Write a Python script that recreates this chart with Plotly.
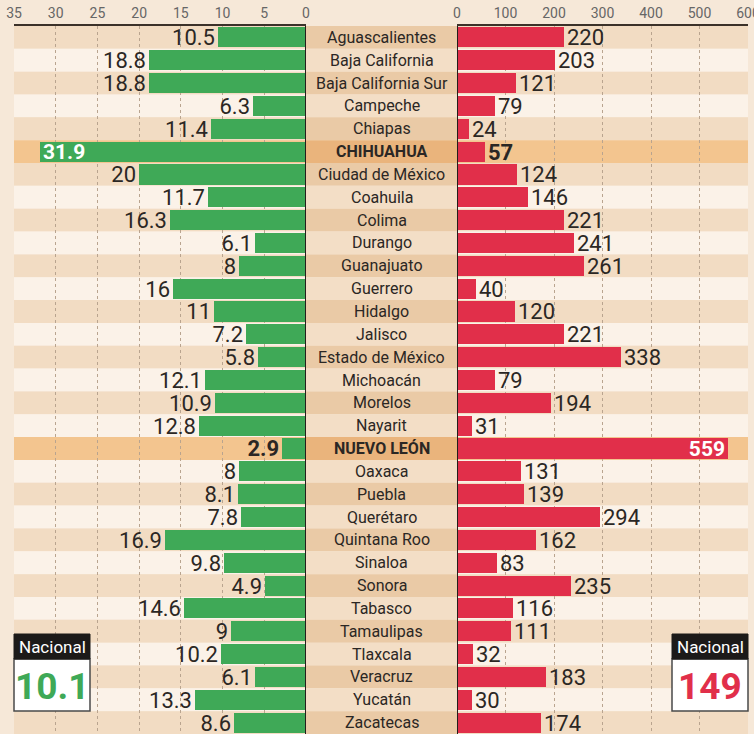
import plotly.graph_objects as go

states = ["Aguascalientes", "Baja California", "Baja California Sur", "Campeche", "Chiapas",
          "CHIHUAHUA", "Ciudad de México", "Coahuila", "Colima", "Durango", "Guanajuato",
          "Guerrero", "Hidalgo", "Jalisco", "Estado de México", "Michoacán", "Morelos",
          "Nayarit", "NUEVO LEÓN", "Oaxaca", "Puebla", "Querétaro", "Quintana Roo",
          "Sinaloa", "Sonora", "Tabasco", "Tamaulipas", "Tlaxcala", "Veracruz", "Yucatán",
          "Zacatecas"]
left_vals = [10.5, 18.8, 18.8, 6.3, 11.4, 31.9, 20, 11.7, 16.3, 6.1, 8, 16, 11, 7.2, 5.8,
             12.1, 10.9, 12.8, 2.9, 8, 8.1, 7.8, 16.9, 9.8, 4.9, 14.6, 9, 10.2, 6.1, 13.3, 8.6]
right_vals = [220, 203, 121, 79, 24, 57, 124, 146, 221, 241, 261, 40, 120, 221, 338, 79,
              194, 31, 559, 131, 139, 294, 162, 83, 235, 116, 111, 32, 183, 30, 174]
highlight = ["CHIHUAHUA", "NUEVO LEÓN"]
left_ticks = [0, 5, 10, 15, 20, 25, 30, 35]
right_ticks = [0, 100, 200, 300, 400, 500, 600]
nacional_left = "10.1"
nacional_right = "149"

W, H = 754, 734
FONT = "Roboto, sans-serif"
NARROW = "Liberation Sans Narrow, Roboto, sans-serif"
GREEN = "#3fa957"
RED = "#e12f4a"
TXT = "#2b2724"
BG = "#f6e8d8"

def px(x):
    return x / W

def py(y):
    return 1 - y / H

n = len(states)
idx = list(range(n))

def fmt(v):
    return ("%g" % v)

left_text = [("<b>%s</b>" % fmt(v)) if s in highlight else fmt(v) for s, v in zip(states, left_vals)]
right_text = [("<b>%s</b>" % fmt(v)) if s in highlight else fmt(v) for s, v in zip(states, right_vals)]
left_pos = ["inside" if (s in highlight and v > 20) else "outside" for s, v in zip(states, left_vals)]
right_pos = ["inside" if (s in highlight and v > 400) else "outside" for s, v in zip(states, right_vals)]

fig = go.Figure()
fig.add_trace(go.Bar(
    x=left_vals, y=idx, orientation="h", xaxis="x", yaxis="y",
    marker=dict(color=GREEN, line=dict(width=0)), width=0.88,
    text=left_text, textposition=left_pos, insidetextanchor="end",
    insidetextfont=dict(color="white", size=21, family=FONT),
    outsidetextfont=dict(color=TXT, size=22, family=FONT),
    constraintext="none", cliponaxis=False, textangle=0, hoverinfo="skip"))
fig.add_trace(go.Bar(
    x=right_vals, y=idx, orientation="h", xaxis="x2", yaxis="y",
    marker=dict(color=RED, line=dict(width=0)), width=0.88,
    text=right_text, textposition=right_pos, insidetextanchor="end",
    insidetextfont=dict(color="white", size=21, family=FONT),
    outsidetextfont=dict(color=TXT, size=22, family=FONT),
    constraintext="none", cliponaxis=False, textangle=0, hoverinfo="skip"))

shapes = []
for i, s in enumerate(states):
    if s in highlight:
        c_plot, c_mid = "#f3c58f", "#eab47c"
    elif i % 2 == 0:
        c_plot, c_mid = "#f2dcc3", "#eacaa6"
    else:
        c_plot, c_mid = "#fbf2e8", "#f3dec6"
    for xr in ("x domain", "x2 domain"):
        shapes.append(dict(type="rect", xref=xr, yref="y", x0=0, x1=1, y0=i - 0.5, y1=i + 0.5,
                           fillcolor=c_plot, line=dict(width=0), layer="below"))
    shapes.append(dict(type="rect", xref="paper", yref="y", x0=px(306), x1=px(457),
                       y0=i - 0.5, y1=i + 0.5, fillcolor=c_mid, line=dict(width=0), layer="below"))

# vertical baseline lines
shapes.append(dict(type="line", xref="x", yref="y domain", x0=0, x1=0, y0=0, y1=1,
                   line=dict(color="#231f1c", width=2), layer="above"))
shapes.append(dict(type="line", xref="x2", yref="y domain", x0=0, x1=0, y0=0, y1=1,
                   line=dict(color="#231f1c", width=2), layer="above"))

anns = []

# Nacional boxes
def nac_box(x0, x1, val, color):
    shapes.append(dict(type="rect", xref="paper", yref="paper", x0=px(x0), x1=px(x1),
                       y0=py(711), y1=py(659), fillcolor="white",
                       line=dict(color="#4a4a4a", width=1.5), layer="above"))
    shapes.append(dict(type="rect", xref="paper", yref="paper", x0=px(x0), x1=px(x1),
                       y0=py(659), y1=py(634), fillcolor="#1c1a19",
                       line=dict(color="#1c1a19", width=1), layer="above"))
    anns.append(dict(xref="paper", yref="paper", x=px((x0 + x1) / 2), y=py(647),
                     text="Nacional", showarrow=False, xanchor="center", yanchor="middle",
                     font=dict(color="white", size=17, family=FONT)))
    anns.append(dict(xref="paper", yref="paper", x=px((x0 + x1) / 2), y=py(686),
                     text="<b>%s</b>" % val, showarrow=False, xanchor="center", yanchor="middle",
                     font=dict(color=color, size=37, family=NARROW)))

for i, s in enumerate(states):
    anns.append(dict(xref="paper", yref="y", x=px(381.5), y=i,
                     text=("<b>%s</b>" % s) if s in highlight else s,
                     showarrow=False, xanchor="center", yanchor="middle",
                     font=dict(color=TXT, size=16, family=FONT)))
nac_box(14, 90, nacional_left, GREEN)
nac_box(672, 748, nacional_right, RED)

axis_common = dict(side="top", showline=True, linecolor="#3b3129", linewidth=2,
                   showgrid=True, gridcolor="#b9a48f", griddash="dot", gridwidth=1,
                   zeroline=False, ticks="", fixedrange=True, ticklabeloverflow="allow",
                   automargin=False,
                   tickfont=dict(color="#666666", size=14, family=FONT))

fig.update_layout(
    width=W, height=H, autosize=False,
    margin=dict(l=0, r=0, t=0, b=0, autoexpand=False),
    paper_bgcolor=BG, plot_bgcolor="rgba(0,0,0,0)",
    showlegend=False, bargap=0,
    xaxis=dict(domain=[px(14), px(306)], range=[35, 0], tickvals=left_ticks,
               anchor="y", **axis_common),
    xaxis2=dict(domain=[px(457), px(748)], range=[0, 600], tickvals=right_ticks,
                anchor="y", **axis_common),
    yaxis=dict(domain=[0, py(26)], range=[n - 0.5, -0.5], showticklabels=False,
               showgrid=False, zeroline=False, showline=False, fixedrange=True),
    shapes=shapes, annotations=anns,
)

fig.write_html("out.html", config={"displayModeBar": False},
               post_script="document.body.style.margin='0';document.body.style.overflow='hidden';"
                           "document.body.style.background='%s';" % BG)
